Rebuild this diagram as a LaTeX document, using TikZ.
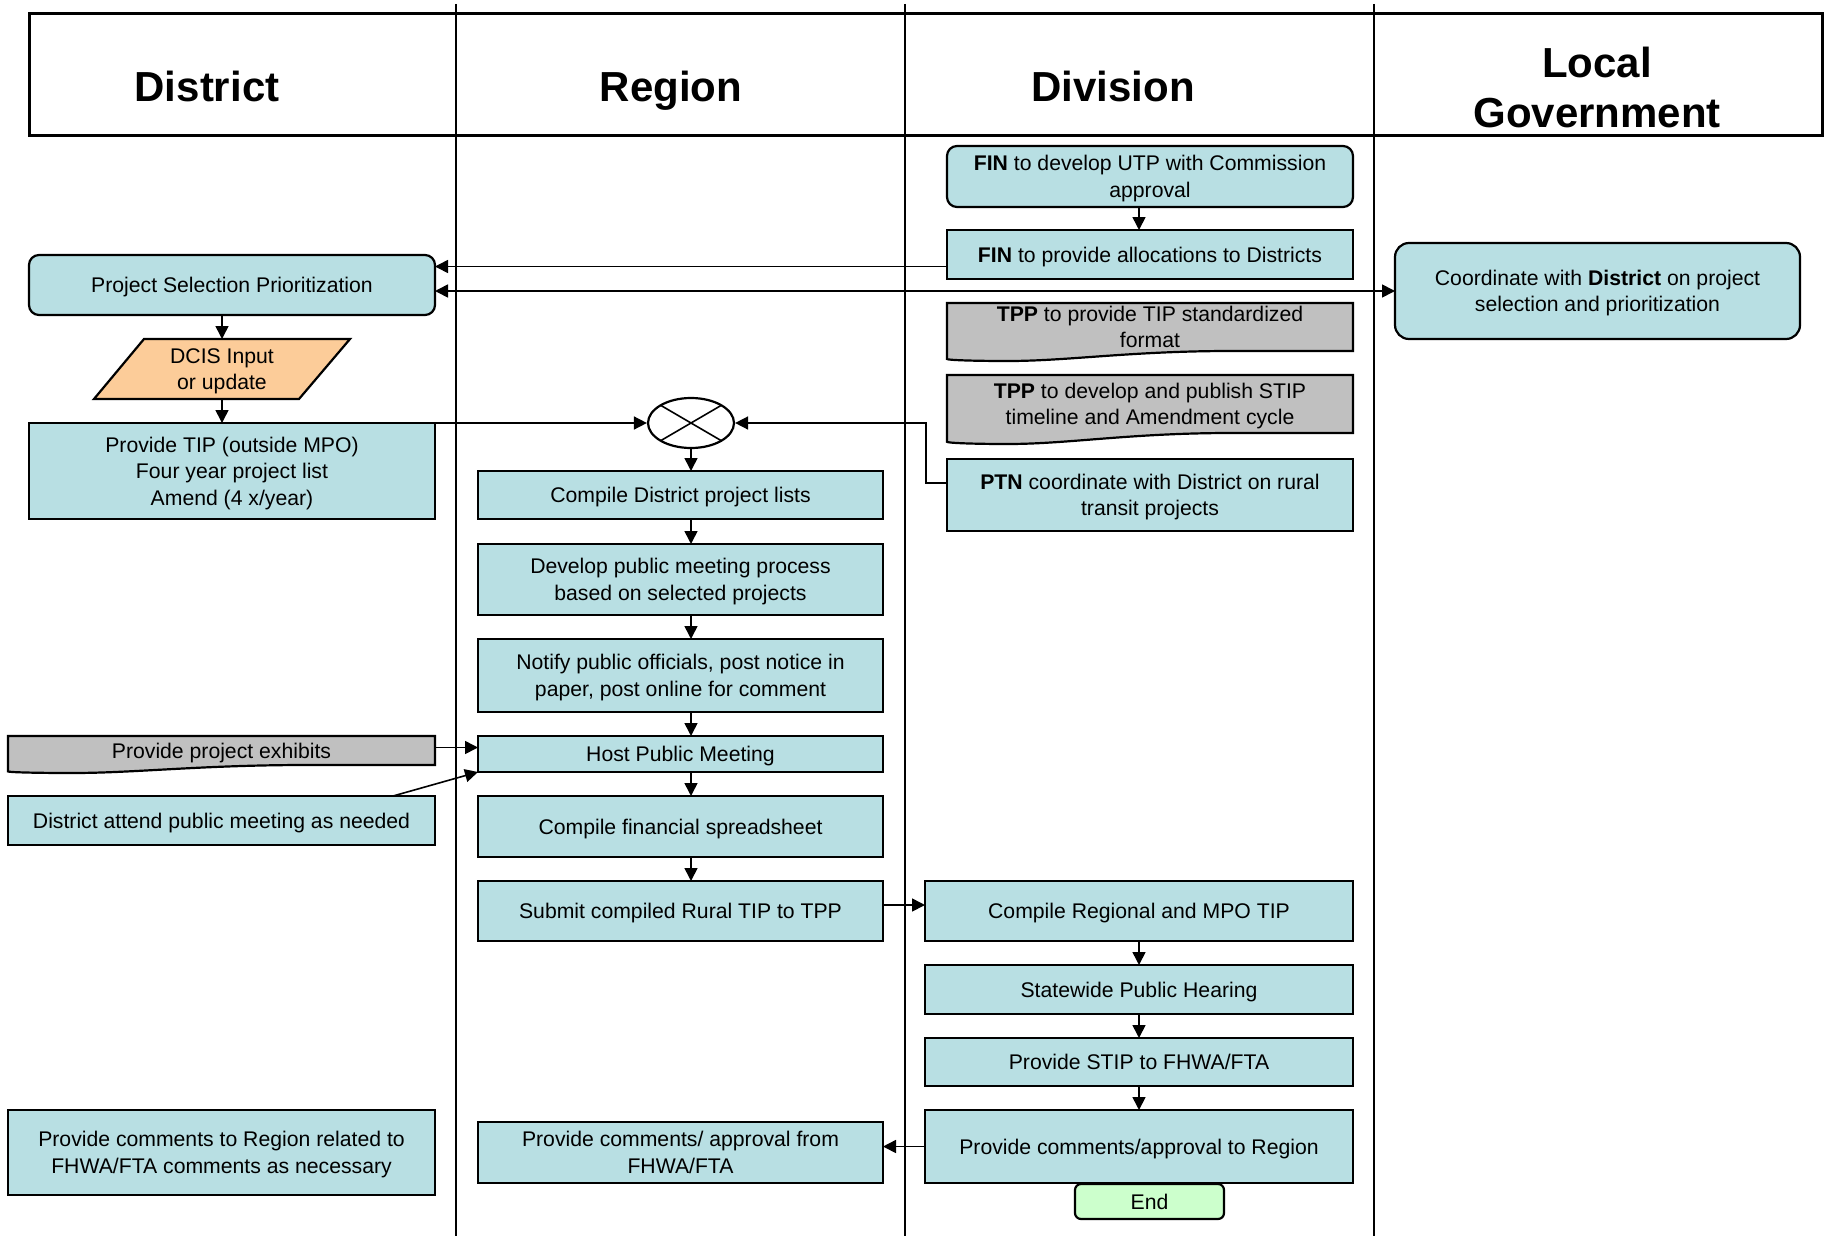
\documentclass[tikz,border=0pt]{standalone}
\usepackage{fontspec}
\setmainfont{Liberation Sans}
\usetikzlibrary{shapes.geometric,arrows.meta,calc,backgrounds}
\definecolor{boxblue}{RGB}{184,223,227}
\definecolor{docgray}{RGB}{192,192,192}
\definecolor{dcisorange}{RGB}{252,204,153}
\definecolor{endgreen}{RGB}{204,255,204}
\newcommand\bodyfont{\fontsize{10.6}{13.2}\selectfont}
\newcommand\titlefont{\fontsize{21}{25}\selectfont\bfseries}
\newcommand\docshape[2]{%
  \draw[docsh] (#1.north west) -- (#1.north east) -- (#1.south east)
    -- ($(#1.south west)!0.7!(#1.south east)$)
    .. controls ($(#1.south west)!0.45!(#1.south east)$) and ($(#1.south west)!0.3!(#1.south east)+(0,#2)$)
    .. ($(#1.south west)!0.15!(#1.south east)+(0,#2)$)
    .. controls ($(#1.south west)!0.06!(#1.south east)+(0,#2)$) and ($(#1.south west)+(0,0.9*#2)$)
    .. ($(#1.south west)+(0,0.8*#2)$) -- cycle;}
\tikzset{
  span/.style n args={4}{at={({(#1+#3)/2},{(#2+#4)/2})}, minimum width={(#3-#1)*0.5pt}, minimum height={(#4-#2)*0.5pt}},
  bx/.style={draw=black, line width=1.1pt, fill=boxblue, inner sep=0pt, outer sep=0pt, align=center, font=\bodyfont, text depth=0pt},
  rbx/.style={bx, rounded corners=5pt},
  txt/.style={inner sep=0pt, outer sep=0pt, align=center, font=\bodyfont, text depth=0pt},
  docsh/.style={draw=black, line width=1.1pt, fill=docgray},
  ttl/.style={inner sep=0pt, align=center, font=\titlefont},
  arr/.style={line width=0.8pt, -{Triangle[length=6.5pt,width=6.5pt]}},
  arrtwo/.style={line width=0.8pt, {Triangle[length=6.5pt,width=6.5pt]}-{Triangle[length=6.5pt,width=6.5pt]}},
  lane/.style={line width=1.1pt}
}
\begin{document}
\begin{tikzpicture}[x=0.5pt,y=-0.5pt]
\useasboundingbox (0,0) rectangle (1824,1236);
% header and lanes
\draw[line width=1.5pt] (29,14) rectangle (1822,135);
\draw[lane] (456,4) -- (456,1236);
\draw[lane] (905,4) -- (905,1236);
\draw[lane] (1374,4) -- (1374,1236);
\node[ttl, anchor=base] (tdist) at (207,102) {District};
\node[ttl, anchor=base] (treg) at (671,102) {Region};
\node[ttl, anchor=base] (tdiv) at (1113,102) {Division};
\node[ttl] (tloc) at (1597,87) {Local\\Government};

% District lane
\node[rbx, span={29}{255}{435}{315}] (psp) {Project Selection Prioritization};
\node[txt, span={94}{339}{350}{399}] (dcis) {DCIS Input\\or update};
\node[bx, span={29}{423}{435}{519}] (tip) {Provide TIP (outside MPO)\\Four year project list\\Amend (4 x/year)};
\node[txt, span={8}{736}{435}{765}] (exh) {Provide project exhibits};
\node[bx, span={8}{796}{435}{845}] (dat) {District attend public meeting as needed};
\node[bx, span={8}{1110}{435}{1195}] (pcr) {Provide comments to Region related to\\FHWA/FTA comments as necessary};

% Region lane
\node[draw=black, fill=white, line width=1.1pt, shape=ellipse, inner sep=0pt, minimum width=43pt, minimum height=25pt] (sum) at (691,423) {};
\draw[line width=0.8pt] (sum.center) ++(-30,-17.5) -- ++(60,35);
\draw[line width=0.8pt] (sum.center) ++(30,-17.5) -- ++(-60,35);
\node[bx, span={478}{471}{883}{519}] (cdl) {Compile District project lists};
\node[bx, span={478}{544}{883}{615}] (dpm) {Develop public meeting process\\based on selected projects};
\node[bx, span={478}{639}{883}{712}] (npo) {Notify public officials, post notice in\\paper, post online for comment};
\node[bx, span={478}{736}{883}{772}] (hpm) {Host Public Meeting};
\node[bx, span={478}{796}{883}{857}] (cfs) {Compile financial spreadsheet};
\node[bx, span={478}{881}{883}{941}] (sub) {Submit compiled Rural TIP to TPP};
\node[bx, span={478}{1122}{883}{1183}] (pcf) {Provide comments/ approval from\\FHWA/FTA};

% Division lane
\node[rbx, span={947}{146}{1353}{207}] (utp) {\textbf{FIN} to develop UTP with Commission\\approval};
\node[bx, span={947}{230}{1353}{279}] (alloc) {\textbf{FIN} to provide allocations to Districts};
\node[txt, span={947}{303}{1353}{351}] (tppa) {\textbf{TPP} to provide TIP standardized\\format};
\node[txt, span={947}{375}{1353}{433}] (tppb) {\textbf{TPP} to develop and publish STIP\\timeline and Amendment cycle};
\node[bx, span={947}{459}{1353}{531}] (ptn) {\textbf{PTN} coordinate with District on rural\\transit projects};
\node[bx, span={925}{881}{1353}{941}] (crm) {Compile Regional and MPO TIP};
\node[bx, span={925}{965}{1353}{1014}] (swh) {Statewide Public Hearing};
\node[bx, span={925}{1038}{1353}{1086}] (stip) {Provide STIP to FHWA/FTA};
\node[bx, span={925}{1110}{1353}{1183}] (pca) {Provide comments/approval to Region};
\node[bx, rounded corners=3pt, fill=endgreen, span={1075}{1184}{1224}{1219}] (endn) {End};

% Local government lane
\node[bx, rounded corners=7pt, span={1395}{243}{1800}{339}] (coord) {Coordinate with \textbf{District} on project\\selection and prioritization};

% background shapes
\begin{pgfonlayer}{background}
\draw[docsh, fill=dcisorange] (dcis.south west) -- ($(dcis.south east)+(-51,0)$) -- (dcis.north east) -- ($(dcis.north west)+(50,0)$) -- cycle;
\docshape{exh}{8}
\docshape{tppa}{10}
\docshape{tppb}{11}
\end{pgfonlayer}

% connectors
\draw[arr] (psp.south -| dcis.north) -- (dcis.north);
\draw[arr] (dcis.south) -- (dcis.south |- tip.north);
\draw[arr] (tip.north east) -- (sum.west);
\draw[arr] ([yshift=6pt]ptn.west) -- ++(-21,0) |- (sum.east);
\draw[arr] (sum.south) -- (sum.south |- cdl.north);
\draw[arr] (cdl.south -| sum.south) -- (dpm.north -| sum.south);
\draw[arr] (dpm.south -| sum.south) -- (npo.north -| sum.south);
\draw[arr] (npo.south -| sum.south) -- (hpm.north -| sum.south);
\draw[arr] (hpm.south -| sum.south) -- (cfs.north -| sum.south);
\draw[arr] (cfs.south -| sum.south) -- (sub.north -| sum.south);
\draw[arr] ([yshift=1.5pt]exh.east) -- ([yshift=1.5pt]exh.east -| hpm.west);
\draw[arr] ([xshift=-21pt]dat.north east) -- (hpm.south west);
\draw[arr] ([xshift=-5.5pt]utp.south) -- ([xshift=-5.5pt]alloc.north);
\draw[arr] ([yshift=-6pt]alloc.west) -- ([yshift=-6pt]alloc.west -| psp.east);
\draw[arrtwo] (coord.west) -- (coord.west -| psp.east);
\draw[arr] ([yshift=3pt]sub.east) -- ([yshift=3pt]sub.east -| crm.west);
\draw[arr] (crm.south) -- (swh.north);
\draw[arr] (swh.south) -- (stip.north);
\draw[arr] (stip.south) -- (pca.north);
\draw[arr] (pca.west) -- (pca.west -| pcf.east);
\end{tikzpicture}
\end{document}
